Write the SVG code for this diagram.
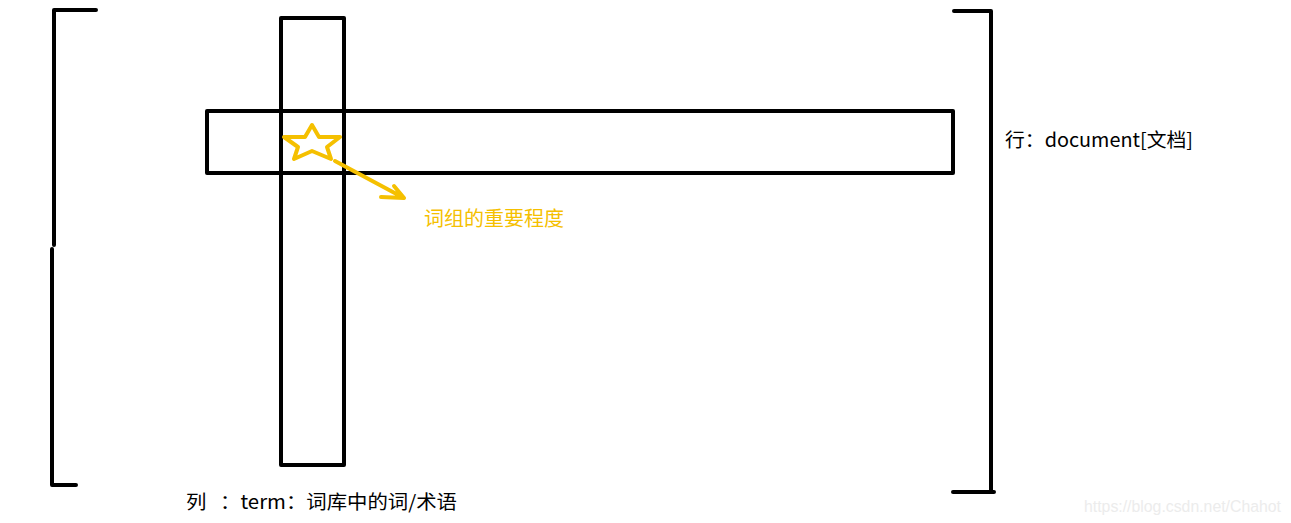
<svg xmlns="http://www.w3.org/2000/svg" width="1291" height="523" viewBox="0 0 1291 523">
<style>
.k{fill:none;stroke:#000;stroke-width:4;stroke-linecap:round;stroke-linejoin:round}
.y{fill:none;stroke:#f5c000;stroke-width:4;stroke-linecap:round;stroke-linejoin:round}
text{font-family:"Noto Sans CJK SC","Liberation Sans",sans-serif;font-size:19px;white-space:pre}
</style>
<rect width="1291" height="523" fill="#fff"/>
<g id="left-bracket"><path class="k" d="M96 10H54V245M52 249V485H76"/></g>
<g id="right-bracket"><path class="k" d="M954 11H991V492M953 492H994"/></g>
<g id="column"><rect class="k" x="281" y="18" width="63" height="447" stroke-linecap="butt" stroke-linejoin="miter"/></g>
<g id="row"><rect class="k" x="207" y="111" width="746" height="62" stroke-linecap="butt" stroke-linejoin="miter"/></g>
<g id="star"><polygon class="y" points="312,125 319,137 340,137 327,147 331,159 312,151 294,159 298,147 284,137 305,137"/></g>
<g id="connectors"><path class="y" d="M335 161L404 198M394 186L404 198L381 197"/></g>
<g id="labels">
<text x="1005" y="147" textLength="188" lengthAdjust="spacingAndGlyphs">行：document[文档]</text>
<text x="186" y="509" textLength="271" lengthAdjust="spacingAndGlyphs">列   ：term：词库中的词/术语</text>
<text x="424" y="226" fill="#f5c000" style="font-size:20px" textLength="140" lengthAdjust="spacingAndGlyphs">词组的重要程度</text>
<text x="1084" y="512" fill="#ececec" style="font-family:'Liberation Sans',sans-serif;font-size:16px" textLength="197" lengthAdjust="spacingAndGlyphs">https://blog.csdn.net/Chahot</text>
</g>
</svg>
